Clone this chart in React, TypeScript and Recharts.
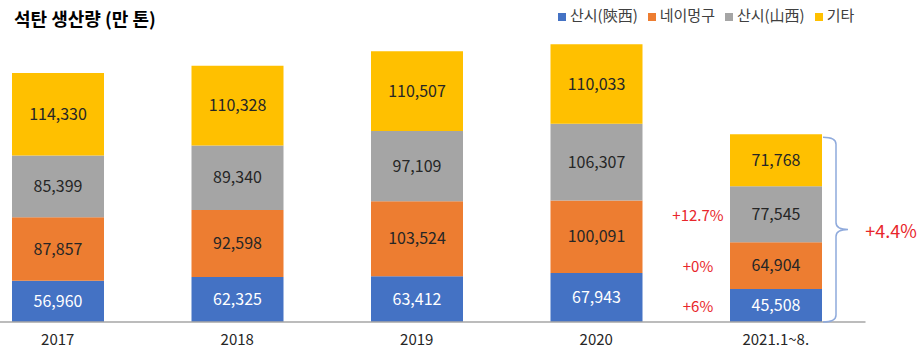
import { BarChart, Bar, XAxis, YAxis, Legend, LabelList } from 'recharts'

const categories = ['2017', '2018', '2019', '2020', '2021.1~8.']
const shaanxi = [56960, 62325, 63412, 67943, 45508]
const neimenggu = [87857, 92598, 103524, 100091, 64904]
const shanxi = [85399, 89340, 97109, 106307, 77545]
const other = [114330, 110328, 110507, 110033, 71768]

// 2021.1~8. year-on-year change, shown beside the last bar
const ytdShaanxi = '+6%'
const ytdNeimenggu = '+0%'
const ytdShanxi = '+12.7%'
const ytdTotal = '+4.4%'

const seriesOrder = ['shaanxi', 'neimenggu', 'shanxi', 'other']

const data = categories.map((name, i) => ({
  name,
  shaanxi: shaanxi[i],
  neimenggu: neimenggu[i],
  shanxi: shanxi[i],
  other: other[i],
}))

const FONT = '"Noto Sans CJK KR", "Noto Sans", sans-serif'
const RED = '#E8262B'
const TOP = 22
const PLOT_H = 300
const LAST = categories.length - 1

const fmt = (v: any) => Number(v).toLocaleString('en-US')

const pctLabel = (text: string) => (p: any) => {
  if (p.index !== LAST) return null
  return (
    <text x={p.x - 32} y={p.y + p.height / 2} textAnchor="middle" dominantBaseline="central"
      fill={RED} fontSize={15} fontFamily={FONT}>{text}</text>
  )
}

const braceLabel = (p: any) => {
  if (p.index !== LAST) return null
  const x0 = p.x + p.width + 1
  const x1 = p.x + p.width + 14
  const x2 = p.x + p.width + 26
  const top = p.y + 3
  const bottom = TOP + PLOT_H
  const mid = (top + bottom) / 2
  const d = `M${x0},${top} Q${x1},${top} ${x1},${top + 7} L${x1},${mid - 7} Q${x1},${mid} ${x2},${mid}`
    + ` Q${x1},${mid} ${x1},${mid + 7} L${x1},${bottom - 7} Q${x1},${bottom} ${x0},${bottom}`
  return (
    <g>
      <path d={d} fill="none" stroke="#8FAADC" strokeWidth={1.5} />
      <text x={p.x + p.width + 69} y={mid} textAnchor="middle" dominantBaseline="central"
        fill={RED} fontSize={18} fontFamily={FONT}>{ytdTotal}</text>
    </g>
  )
}

export default function App() {
  return (
    <div style={{ position: 'absolute', left: 0, top: 0, width: 924, height: 355, overflow: 'hidden', background: '#fff', fontFamily: FONT }}>
      <div style={{ position: 'absolute', left: 14, top: 5, fontSize: 18, fontWeight: 700, color: '#000', whiteSpace: 'nowrap' }}>
        석탄 생산량 (만 톤)
      </div>
      <div style={{ position: 'absolute', left: -32, top: 0 }}>
        <BarChart width={956} height={355} data={data} margin={{ top: TOP, right: 58.5, bottom: 0, left: 0 }} barSize={92}>
          <XAxis dataKey="name" height={33} tickLine={false} axisLine={{ stroke: '#A6A6A6', strokeWidth: 1.5 }}
            tick={{ fill: '#262626', fontSize: 15, fontFamily: FONT }} tickMargin={6} />
          <YAxis hide domain={[0, 415000]} allowDataOverflow />
          <Legend verticalAlign="middle" align="center" iconType="square" iconSize={8}
            itemSorter={(item: any) => seriesOrder.indexOf(item.dataKey)}
            wrapperStyle={{ top: 4, left: 590, width: 'auto', fontSize: 15, fontFamily: FONT }}
            formatter={(v: any) => <span style={{ color: '#404040' }}>{v}</span>} />
          <Bar dataKey="shaanxi" name="산시(陝西)" stackId="a" fill="#4472C4" isAnimationActive={false}>
            <LabelList dataKey="shaanxi" position="center" formatter={fmt} fill="#fff" fontSize={16} fontFamily={FONT} />
            <LabelList dataKey="shaanxi" content={pctLabel(ytdShaanxi)} />
          </Bar>
          <Bar dataKey="neimenggu" name="네이멍구" stackId="a" fill="#ED7D31" isAnimationActive={false}>
            <LabelList dataKey="neimenggu" position="center" formatter={fmt} fill="#262626" fontSize={16} fontFamily={FONT} />
            <LabelList dataKey="neimenggu" content={pctLabel(ytdNeimenggu)} />
          </Bar>
          <Bar dataKey="shanxi" name="산시(山西)" stackId="a" fill="#A5A5A5" isAnimationActive={false}>
            <LabelList dataKey="shanxi" position="center" formatter={fmt} fill="#262626" fontSize={16} fontFamily={FONT} />
            <LabelList dataKey="shanxi" content={pctLabel(ytdShanxi)} />
          </Bar>
          <Bar dataKey="other" name="기타" stackId="a" fill="#FFC000" isAnimationActive={false}>
            <LabelList dataKey="other" position="center" formatter={fmt} fill="#262626" fontSize={16} fontFamily={FONT} />
            <LabelList dataKey="other" content={braceLabel} />
          </Bar>
        </BarChart>
      </div>
    </div>
  )
}
